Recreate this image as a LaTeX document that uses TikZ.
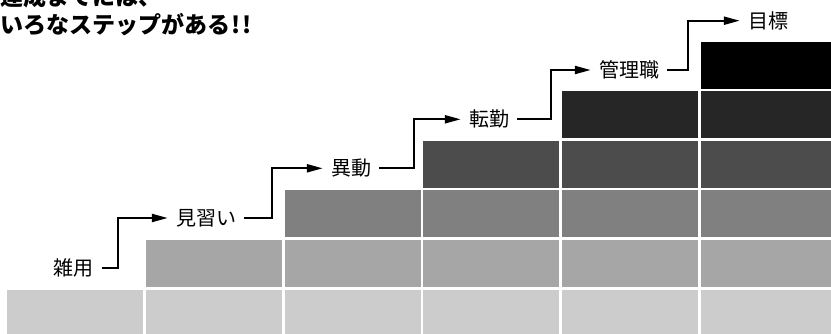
\documentclass[tikz,border=0pt]{standalone}
\usepackage{fontspec}
\usepackage{tikz}
\usetikzlibrary{arrows.meta}
\newfontfamily\cjk{Noto Sans CJK JP}

\tikzset{
  steplabel/.style={inner xsep=8pt, inner ysep=2pt, font=\cjk\fontsize{20}{24}\selectfont},
  steparrow/.style={line width=2.2pt, -{Triangle[length=16pt,width=8pt]}},
  titletext/.style={anchor=base west, inner sep=0pt, font=\cjk\bfseries\fontsize{23}{28}\selectfont}
}

\begin{document}
\begin{tikzpicture}[x=1pt, y=-1pt]
  \useasboundingbox (0,0) rectangle (831,334);

  % stairs
  \foreach \row/\shade in {0/20,1/35,2/50,3/70,4/85,5/100} {
    \foreach \col in {\row,...,5} {
      \fill[black!\shade] (7+138.8*\col, 289.5-49.5*\row) rectangle ++(136,46.7);
    }
  }

  \node[titletext] (title1) at (0,6) {達成までには、};
  \node[titletext] (title2) at (0,34) {いろなステップがある\makebox[0.5em]{!}\makebox[0.5em]{!}};

  \node[steplabel] (zatsuyo) at (73.5,267.7) {雑用};
  \node[steplabel] (minarai) at (206,218) {見習い};
  \node[steplabel] (idou) at (351,168.3) {異動};
  \node[steplabel] (tenkin) at (489,119.3) {転勤};
  \node[steplabel] (kanri) at (629,70) {管理職};
  \node[steplabel] (mokuhyo) at (768,20.7) {目標};

  \draw[steparrow] (zatsuyo.east) -- ++(16,0) |- (minarai.west);
  \draw[steparrow] (minarai.east) -- ++(28,0) |- (idou.west);
  \draw[steparrow] (idou.east) -- ++(34.7,0) |- (tenkin.west);
  \draw[steparrow] (tenkin.east) -- ++(34,0) |- (kanri.west);
  \draw[steparrow] (kanri.east) -- ++(21,0) |- (mokuhyo.west);
\end{tikzpicture}
\end{document}
